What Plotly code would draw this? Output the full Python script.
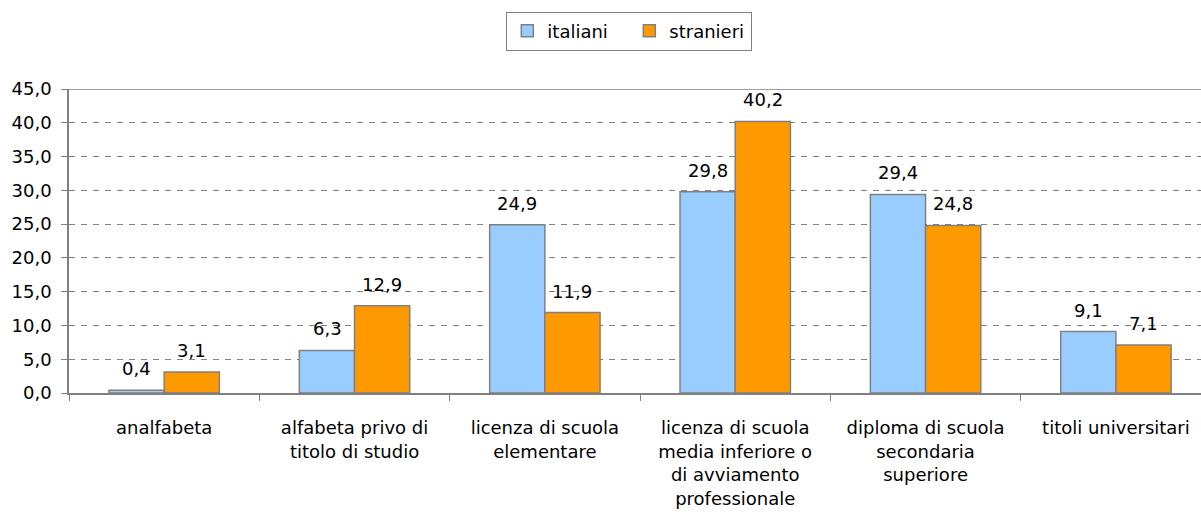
import plotly.graph_objects as go

categories = [
    "analfabeta",
    "alfabeta privo di<br>titolo di studio",
    "licenza di scuola<br>elementare",
    "licenza di scuola<br>media inferiore o<br>di avviamento<br>professionale",
    "diploma di scuola<br>secondaria<br>superiore",
    "titoli universitari",
]
italiani = [0.4, 6.3, 24.9, 29.8, 29.4, 9.1]
stranieri = [3.1, 12.9, 11.9, 40.2, 24.8, 7.1]
y_ticks = [0, 5, 10, 15, 20, 25, 30, 35, 40, 45]

FONT = "DejaVu Sans, sans-serif"
SIZE = 18
GREY = "#808080"
BAR_HALF = 27.5  # horizontal offset (px) of each bar centre from its category centre

fig = go.Figure()
series = [("italiani", italiani, "#99CCFF", -BAR_HALF),
          ("stranieri", stranieri, "#FF9900", BAR_HALF)]
for name, vals, color, _ in series:
    fig.add_trace(go.Bar(
        name=name, x=categories, y=vals,
        marker=dict(color=color, line=dict(color=GREY, width=1.5)),
    ))

# value labels above each bar
for name, vals, color, dx in series:
    for cat, v in zip(categories, vals):
        fig.add_annotation(
            x=cat, y=v, xref="x", yref="y",
            text=f"{v:.1f}".replace(".", ","),
            showarrow=False, xanchor="center", yanchor="bottom",
            xshift=dx, yshift=9,
            font=dict(family=FONT, size=SIZE, color="#000000"),
        )

fig.update_layout(
    width=1201, height=524,
    margin=dict(l=69, r=0, t=89, b=131),
    paper_bgcolor="white", plot_bgcolor="white",
    separators=",.",
    barmode="group", bargap=0.42, bargroupgap=0,
    font=dict(family=FONT, size=SIZE, color="#000000"),
    showlegend=True,
    legend=dict(
        orientation="h", xref="container", yref="container",
        x=0.524, xanchor="center", y=0.978, yanchor="top",
        bordercolor=GREY, borderwidth=1,
        font=dict(family=FONT, size=SIZE, color="#000000"),
        itemwidth=30, entrywidth=77, entrywidthmode="pixels", tracegroupgap=0,
    ),
    xaxis=dict(
        range=[-0.5, 5.447], showgrid=False,
        showline=True, linecolor=GREY, linewidth=1.5,
        ticks="outside", tickson="boundaries", ticklen=6, tickcolor=GREY,
        ticklabelstandoff=18,
        tickfont=dict(family=FONT, size=SIZE), fixedrange=True,
    ),
    yaxis=dict(
        range=[0, 45], tickvals=y_ticks, tickformat=".1f",
        showgrid=True, gridcolor=GREY, gridwidth=1, griddash="6px,6px",
        showline=True, linecolor=GREY, linewidth=1.5,
        ticks="outside", ticklen=6, tickcolor=GREY,
        ticklabelstandoff=6,
        tickfont=dict(family=FONT, size=SIZE), zeroline=False,
    ),
)

# top frame edge of the plot area
fig.add_shape(type="line", xref="paper", yref="y", x0=0, x1=1, y0=45, y1=45,
              line=dict(color=GREY, width=1.5))

fig.write_html("out.html")
